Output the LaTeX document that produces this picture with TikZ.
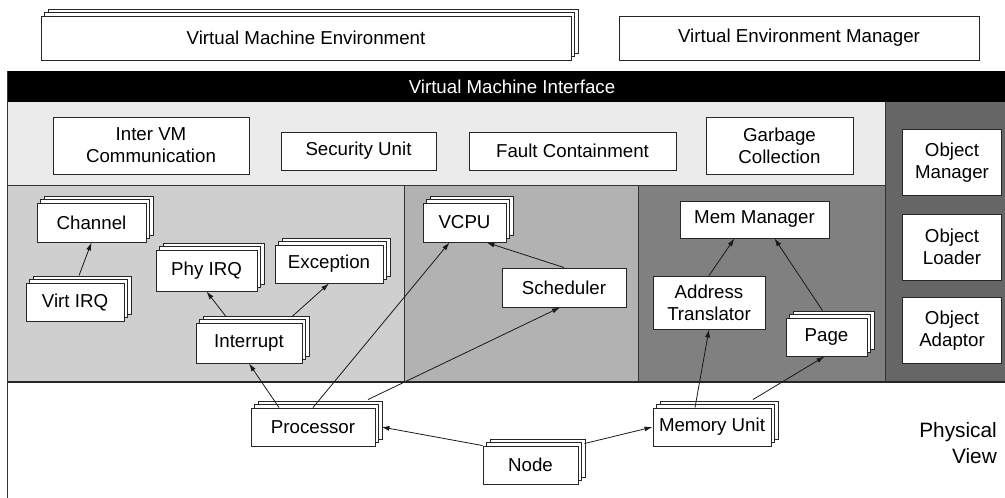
\documentclass[tikz,border=0pt]{standalone}
\usepackage{fontspec}
\setmainfont{Liberation Sans}
\setsansfont{Liberation Sans}
\usepackage{xcolor}
\usetikzlibrary{shadows,arrows.meta}

\definecolor{bandgray}{HTML}{EBEBEB}
\definecolor{leftgray}{HTML}{CFCFCF}
\definecolor{midgray}{HTML}{B2B2B2}
\definecolor{memgray}{HTML}{808080}
\definecolor{objgray}{HTML}{666666}

\tikzset{
	box/.style={draw=black!85, fill=white, line width=0.9pt, align=center, inner sep=0pt,
		font=\fontsize{18.7}{22}\selectfont},
	stackbox/.style={box, double copy shadow={shadow xshift=3.5pt, shadow yshift=3.5pt}},
	link/.style={draw=black!90, line width=0.8pt, -{Latex[length=8pt,width=5pt]}}
}

\begin{document}
\begin{tikzpicture}[x=1pt,y=-1pt]
	% Parameters
	\def\leftx{7}
	\def\bartop{71}
	\def\bandtop{102}
	\def\paneltop{185}
	\def\physy{382}
	\def\panelii{404}
	\def\paneliii{638}
	\def\objx{885}
	\def\rightx{1005}
	
	\useasboundingbox (0,0) rectangle (1005,498);
	
	%regions
	\fill[black] (\leftx,\bartop) rectangle (\rightx,\bandtop);
	\fill[bandgray] (\leftx,\bandtop) rectangle (\objx,\paneltop);
	\fill[objgray] (\objx,\bandtop) rectangle (\rightx,\physy);
	\fill[leftgray] (\leftx,\paneltop) rectangle (\panelii,\physy);
	\fill[midgray] (\panelii,\paneltop) rectangle (\paneliii,\physy);
	\fill[memgray] (\paneliii,\paneltop) rectangle (\objx,\physy);
	\draw[black!80, line width=0.8pt] (\leftx,\paneltop) -- (\objx,\paneltop);
	\draw[black!80, line width=0.8pt] (\panelii,\paneltop) -- (\panelii,\physy);
	\draw[black!80, line width=0.8pt] (\paneliii,\paneltop) -- (\paneliii,\physy);
	\draw[black!80, line width=0.8pt] (\objx,\bandtop) -- (\objx,\physy);
	\draw[black!85, line width=1.8pt] (\leftx,\physy) -- (\rightx,\physy);
	\draw[black!80, line width=0.9pt] (\leftx,\bartop) -- (\leftx,498);
	
	%environment
	\node[stackbox, minimum width=530pt, minimum height=44pt] (vme) at (306,38) {Virtual Machine Environment};
	\node[box, minimum width=360pt, minimum height=44pt] (vem) at (799,38) {Virtual Environment Manager};
	\node[text=white, font=\fontsize{18.7}{22}\selectfont] (vmi) at (512,87) {Virtual Machine Interface};
	
	%services
	\node[box, minimum width=196pt, minimum height=57pt] (ivc) at (151,145.5) {Inter VM\\Communication};
	\node[box, minimum width=155pt, minimum height=38pt] (sec) at (358.5,151) {Security Unit};
	\node[box, minimum width=207pt, minimum height=38pt] (fault) at (572.5,151) {Fault Containment};
	\node[box, minimum width=147pt, minimum height=57pt] (gc) at (779.5,145.5) {Garbage\\Collection};
	\node[box, minimum width=99pt, minimum height=66pt] (objm) at (952,162.5) {Object\\Manager};
	\node[box, minimum width=99pt, minimum height=66pt] (objl) at (952,247) {Object\\Loader};
	\node[box, minimum width=99pt, minimum height=66pt] (obja) at (952,330.5) {Object\\Adaptor};
	
	%interrupts
	\node[stackbox, minimum width=109pt, minimum height=39pt] (chan) at (91.5,222.5) {Channel};
	\node[stackbox, minimum width=98pt, minimum height=38pt] (virq) at (75,302) {Virt IRQ};
	\node[stackbox, minimum width=101pt, minimum height=41pt] (pirq) at (206.5,270.5) {Phy IRQ};
	\node[stackbox, minimum width=108pt, minimum height=38pt] (exc) at (329,264) {Exception};
	\node[stackbox, minimum width=106pt, minimum height=40pt] (intr) at (249,343) {Interrupt};
	
	%cpu
	\node[stackbox, minimum width=83pt, minimum height=39pt] (vcpu) at (464.5,222.5) {VCPU};
	\node[box, minimum width=124pt, minimum height=39pt] (sched) at (564,287.5) {Scheduler};
	
	%memory
	\node[box, minimum width=149pt, minimum height=37pt] (memm) at (754.5,219.5) {Mem Manager};
	\node[box, minimum width=112pt, minimum height=53pt] (addr) at (709,302.5) {Address\\Translator};
	\node[stackbox, minimum width=81pt, minimum height=38pt] (page) at (826.5,337) {Page};
	
	%physical
	\node[stackbox, minimum width=124pt, minimum height=38pt] (proc) at (313,427) {Processor};
	\node[stackbox, minimum width=95pt, minimum height=38pt] (hw) at (530.5,465) {Node};
	\node[stackbox, minimum width=118pt, minimum height=38pt] (memu) at (712,427) {Memory Unit};
	\node[font=\fontsize{20.8}{25.5}\selectfont, align=right, anchor=east, inner sep=0pt] (phys) at (997,443) {Physical\\View};
	
	%links
	\draw[link] ([xshift=4pt,yshift=7pt]virq.north) -- (chan.south);
	\draw[link] ([xshift=-23pt,yshift=6pt]intr.north) -- (pirq.south);
	\draw[link] ([xshift=43pt,yshift=6pt]intr.north) -- (exc.south);
	\draw[link] (sched.north) -- ([xshift=22pt]vcpu.south);
	\draw[link] (addr.north) -- ([xshift=-20pt]memm.south);
	\draw[link] ([xshift=-4pt,yshift=7pt]page.north) -- ([xshift=20pt]memm.south);
	\draw[link] ([xshift=-34pt]proc.north) -- (intr.south);
	\draw[link] (proc.north) -- ([xshift=-15pt]vcpu.south);
	\draw[link] ([xshift=55pt,yshift=8pt]proc.north) -- ([xshift=-4pt]sched.south);
	\draw[link] (hw.north west) -- ([xshift=6pt]proc.east);
	\draw[link] ([xshift=6pt,yshift=2pt]hw.north east) -- (memu.west);
	\draw[link] ([xshift=-17pt]memu.north) -- (addr.south);
	\draw[link] ([xshift=41pt,yshift=8pt]memu.north) -- ([xshift=-2pt]page.south);
	
\end{tikzpicture}
\end{document}
